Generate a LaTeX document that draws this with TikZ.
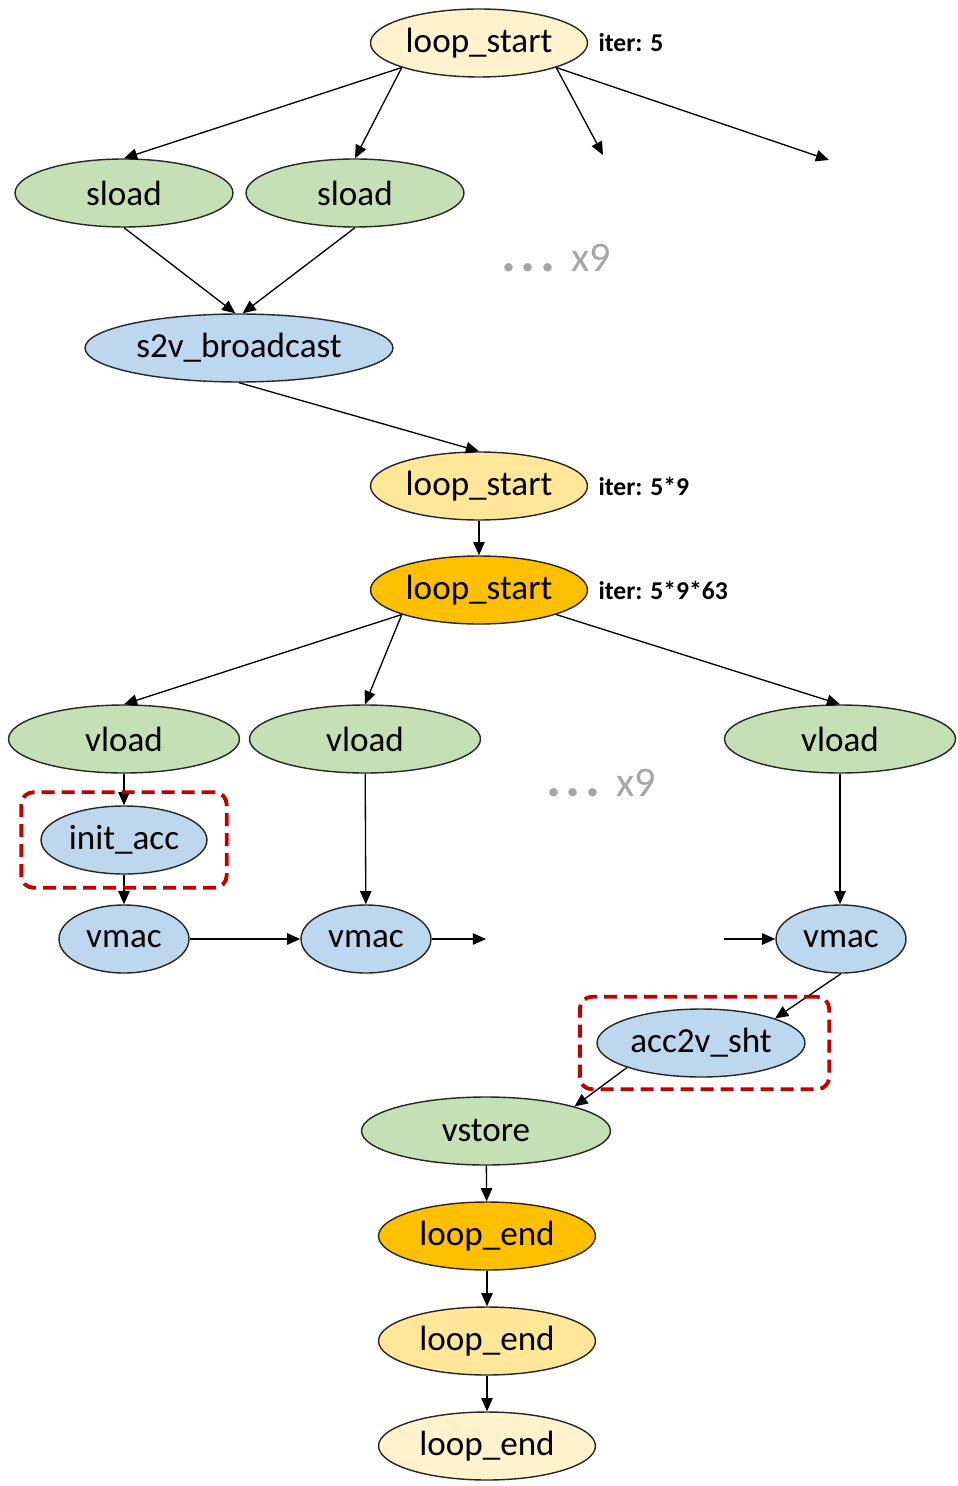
\documentclass[tikz,border=0pt]{standalone}
\usepackage{fontspec}
\setmainfont{Carlito}
\usetikzlibrary{shapes, arrows.meta, positioning, fit}
\definecolor{ldcol}{HTML}{C5E0B4}
\definecolor{veccol}{HTML}{BDD7EE}
\definecolor{outercol}{HTML}{FFF2CC}
\definecolor{middlecol}{HTML}{FFE699}
\definecolor{innercol}{HTML}{FFC000}
\definecolor{markcol}{HTML}{C00000}
\tikzset{
    op/.style={
        ellipse,
        draw=black!85,
        line width=0.8pt,
        inner sep=0pt,
        minimum height=1.36cm,
        font=\fontsize{20}{24}\selectfont,
    },
    ldst/.style={op, fill=ldcol},
    vecop/.style={op, fill=veccol},
    outerloop/.style={op, fill=outercol, minimum width=4.34cm},
    middleloop/.style={op, fill=middlecol, minimum width=4.34cm},
    innerloop/.style={op, fill=innercol, minimum width=4.34cm},
    iterlabel/.style={
        inner sep=0pt,
        font=\bfseries\fontsize{14.6}{17}\selectfont,
    },
    more/.style={
        text=black!35,
        font=\fontsize{24}{28}\selectfont,
    },
    hilite/.style={
        draw=markcol,
        line width=2.2pt,
        dash pattern=on 0.26cm off 0.14cm,
        rounded corners=0.24cm,
    },
}
\newcommand{\moredots}{{\fontsize{32}{32}\selectfont\bfseries .\kern2.5pt.\kern2.5pt.}\kern9pt x9}

\begin{document}
\begin{tikzpicture}[x=0.02cm, y=-0.02cm, >={Triangle[length=7.5pt,width=6.5pt]},
    flow/.style={->, line width=0.75pt}]
      \useasboundingbox (0,0) rectangle (957,1486);

      \node[outerloop] (ls1) at (479,43) {loop\_start};
      \node[iterlabel, right=2mm of ls1] (it1) {iter: 5};

      \node[ldst, minimum width=4.36cm] (sl1) at (124,193) {sload};
      \node[ldst, minimum width=4.36cm] (sl2) at (355,193) {sload};
      \node[more] (more1) at (556,258) {\moredots};

      \node[vecop, minimum width=6.16cm] (bc) at (239,348) {s2v\_broadcast};

      \node[middleloop] (ls2) at (479,486) {loop\_start};
      \node[iterlabel, right=2mm of ls2] (it2) {iter: 5*9};

      \node[innerloop] (ls3) at (479,590) {loop\_start};
      \node[iterlabel, right=2mm of ls3] (it3) {iter: 5*9*63};

      \node[ldst, minimum width=4.62cm] (vl1) at (124,739) {vload};
      \node[ldst, minimum width=4.62cm] (vl2) at (365,739) {vload};
      \node[ldst, minimum width=4.62cm] (vl3) at (840,739) {vload};
      \node[more] (more2) at (601,783) {\moredots};

      \node[vecop, minimum width=3.32cm] (ia) at (124,840) {init\_acc};

      \node[vecop, minimum width=2.6cm] (vm1) at (124,939) {vmac};
      \node[vecop, minimum width=2.6cm] (vm2) at (366,939) {vmac};
      \node[vecop, minimum width=2.6cm] (vm3) at (841,939) {vmac};

      \node[vecop, minimum width=4.16cm] (sh) at (701,1043) {acc2v\_sht};

      \node[ldst, minimum width=4.98cm] (vs) at (486,1131) {vstore};

      \node[innerloop] (le1) at (487,1236) {loop\_end};
      \node[middleloop] (le2) at (487,1341) {loop\_end};
      \node[outerloop] (le3) at (487,1446) {loop\_end};

      % open ends of the unrolled copies
      \coordinate (ls1o3) at (603,155);
      \coordinate (ls1o4) at (829,160);
      \coordinate (vm2o) at (486,939);
      \coordinate (vm3i) at (724,939);

      \draw[flow] (ls1.south west) -- (sl1.north);
      \draw[flow] (ls1.south west) -- (sl2.north);
      \draw[flow] (ls1.south east) -- (ls1o3);
      \draw[flow] (ls1.south east) -- (ls1o4);
      \draw[flow] (sl1.south) -- (bc.96);
      \draw[flow] (sl2.south) -- (bc.84);
      \draw[flow] (bc.south) -- (ls2.north);
      \draw[flow] (ls2) -- (ls3);
      \draw[flow] (ls3.south west) -- (vl1.north);
      \draw[flow] (ls3.south west) -- (vl2.north);
      \draw[flow] (ls3.south east) -- (vl3.north);
      \draw[flow] (vl1) -- (ia);
      \draw[flow] (ia) -- (vm1);
      \draw[flow] (vl2) -- (vm2);
      \draw[flow] (vl3) -- (vl3 |- vm3.north);
      \draw[flow] (vm1) -- (vm2);
      \draw[flow] (vm2) -- (vm2o);
      \draw[flow] (vm3i) -- (vm3);
      \draw[flow] (vm3.south) -- (sh.north east);
      \draw[flow] (sh.south west) -- (vs.north east);
      \draw[flow] (vs) -- (le1);
      \draw[flow] (le1) -- (le2);
      \draw[flow] (le2) -- (le3);

      % highlighted ops
      \node[hilite, fit=(ia), inner xsep=0.38cm, inner ysep=0.26cm] (box1) {};
      \node[hilite, fit=(sh), inner xsep=0.4cm, inner ysep=0.23cm, xshift=0.07cm] (box2) {};
    \end{tikzpicture}
\end{document}
